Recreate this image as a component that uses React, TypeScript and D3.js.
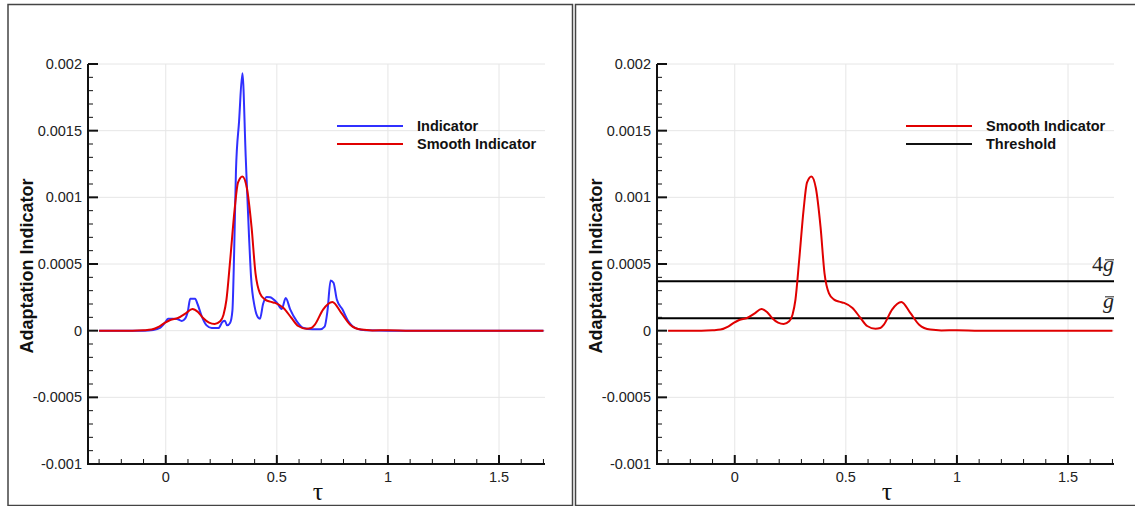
import React from 'react';
import * as d3 from 'd3';

// ---------- data ----------
const indicatorTau = [-0.30, -0.10, -0.056, -0.026, -0.003, 0.01, 0.03, 0.05, 0.072, 0.087, 0.10, 0.11, 0.132, 0.143, 0.162, 0.184, 0.207, 0.237, 0.256, 0.266, 0.276, 0.29, 0.30, 0.308, 0.316, 0.33, 0.345, 0.36, 0.375, 0.384, 0.40, 0.415, 0.424, 0.438, 0.454, 0.47, 0.50, 0.522, 0.54, 0.56, 0.59, 0.62, 0.66, 0.695, 0.715, 0.728, 0.742, 0.755, 0.77, 0.795, 0.822, 0.86, 0.90, 1.0, 1.7];
const indicatorVal = [0, 0, 0.000005, 0.00002, 0.00006, 0.00009, 0.00009, 0.000088, 0.000073, 0.00009, 0.00015, 0.00024, 0.00024, 0.0002, 0.000108, 0.00004, 0.00002, 0.00002, 0.000068, 0.000075, 0.00004, 0.00006, 0.00015, 0.0006, 0.0012, 0.00157, 0.00193, 0.0013, 0.0007, 0.0004, 0.00018, 0.0001, 0.00009, 0.0002, 0.000253, 0.00025, 0.00021, 0.000163, 0.000245, 0.00016, 0.00007, 0.00002, 0.00001, 0.00001, 0.00003, 0.00015, 0.000377, 0.00036, 0.000233, 0.00016, 0.00007, 0.000015, 0.000003, 0, 0];

const smoothTau = [-0.30, -0.15, -0.10, -0.064, -0.03, -0.005, 0.02, 0.055, 0.09, 0.12, 0.145, 0.168, 0.195, 0.22, 0.245, 0.26, 0.273, 0.29, 0.31, 0.325, 0.345, 0.365, 0.386, 0.404, 0.424, 0.447, 0.47, 0.492, 0.53, 0.566, 0.596, 0.633, 0.655, 0.671, 0.708, 0.75, 0.79, 0.83, 0.88, 0.93, 1.0, 1.1, 1.7];
const smoothVal = [0, 0, 0.000003, 0.000008, 0.00003, 0.000058, 0.00008, 0.000095, 0.00013, 0.000163, 0.00014, 0.000095, 0.00006, 0.00005, 0.00007, 0.00012, 0.00023, 0.00053, 0.00091, 0.00111, 0.001157, 0.00107, 0.00078, 0.00043, 0.00028, 0.000233, 0.000218, 0.000208, 0.00017, 0.000095, 0.000035, 0.000015, 0.00002, 0.000045, 0.000158, 0.000215, 0.000133, 0.000045, 0.000008, 0.000002, 0.000003, 0, 0];

const thresholdValues = [0.0000925, 0.00037];
const thresholdPrefix = ['', '4'];

const xTicks = [0, 0.5, 1, 1.5];
const xTickLabels = ['0', '0.5', '1', '1.5'];
const yTicks = [-0.001, -0.0005, 0, 0.0005, 0.001, 0.0015, 0.002];
const yTickLabels = ['-0.001', '-0.0005', '0', '0.0005', '0.001', '0.0015', '0.002'];

const leftLegend = ['Indicator', 'Smooth Indicator'];
const rightLegend = ['Smooth Indicator', 'Threshold'];

const BLUE = '#3030ff';
const RED = '#e00000';
const SANS = '"Liberation Sans", Arial, Helvetica, sans-serif';
const SERIF = '"Liberation Serif", "Times New Roman", serif';

type Series = { tau: number[]; val: number[]; color: string };

function Panel({ dx, series, legend, legendColors, thresholds }: { dx: number; series: Series[]; legend: string[]; legendColors: string[]; thresholds: boolean }) {
  const x = d3.scaleLinear().domain([-0.35, 1.707]).range([88, 545]);
  const y = d3.scaleLinear().domain([-0.001, 0.002]).range([464, 64]);
  const line = d3.line<[number, number]>().x(d => x(d[0])).y(d => y(d[1])).curve(d3.curveMonotoneX);
  const xMinor = d3.range(-3, 18).map(i => i / 10).filter(v => !xTicks.some(t => Math.abs(t - v) < 1e-9));
  const yMinor = d3.range(-10, 21).map(i => i / 10000).filter(v => !yTicks.some(t => Math.abs(t - v) < 1e-12));
  const [x0, x1] = x.range();
  const [yb, yt] = y.range();
  return (
    <g transform={`translate(${dx},0)`}>
      {/* grid */}
      {xTicks.map(t => (
        <line key={'gx' + t} x1={x(t)} x2={x(t)} y1={yt} y2={yb} stroke="#e6e6e6" strokeWidth={1} />
      ))}
      {yTicks.map(t => (
        <line key={'gy' + t} x1={x0} x2={x1} y1={y(t)} y2={y(t)} stroke="#e6e6e6" strokeWidth={1} />
      ))}
      {/* thresholds */}
      {thresholds && thresholdValues.map((v, i) => (
        <g key={'th' + i}>
          <line x1={x0} x2={x1} y1={y(v)} y2={y(v)} stroke="#000" strokeWidth={2} />
          <text x={x1} y={y(v) - 10} textAnchor="end" fontFamily={SERIF} fontSize={22} fill="#222">
            {thresholdPrefix[i] ? <tspan>{thresholdPrefix[i]}</tspan> : null}
            <tspan fontStyle="italic">g</tspan>
          </text>
          <line x1={x1 - 9} x2={x1} y1={y(v) - 21.5} y2={y(v) - 21.5} stroke="#222" strokeWidth={1} />
        </g>
      ))}
      {/* series */}
      {series.map((s, i) => (
        <path key={'s' + i} d={line(s.tau.map((t, j) => [t, s.val[j]] as [number, number])) || ''} fill="none" stroke={s.color} strokeWidth={2} strokeLinejoin="round" />
      ))}
      {/* axes */}
      {xMinor.map(t => (
        <line key={'xm' + t} x1={x(t)} x2={x(t)} y1={yb} y2={yb - 5} stroke="#111" strokeWidth={1} />
      ))}
      {xTicks.map(t => (
        <line key={'xM' + t} x1={x(t)} x2={x(t)} y1={yb} y2={yb - 9} stroke="#111" strokeWidth={2} />
      ))}
      {yMinor.map(t => (
        <line key={'ym' + t} x1={x0} x2={x0 + 5} y1={y(t)} y2={y(t)} stroke="#111" strokeWidth={1} />
      ))}
      {yTicks.map(t => (
        <line key={'yM' + t} x1={x0} x2={x0 + 10} y1={y(t)} y2={y(t)} stroke="#111" strokeWidth={2} />
      ))}
      <path d={`M${x0},${yt} V${yb} H${x1}`} fill="none" stroke="#111" strokeWidth={2} />
      {xTicks.map((t, i) => (
        <text key={'xl' + t} x={x(t)} y={482} textAnchor="middle" fontFamily={SANS} fontSize={14.5} fill="#222">{xTickLabels[i]}</text>
      ))}
      {yTicks.map((t, i) => (
        <text key={'yl' + t} x={82} y={y(t) + 5} textAnchor="end" fontFamily={SANS} fontSize={14.5} fill="#222">{yTickLabels[i]}</text>
      ))}
      <text x={318} y={499.5} textAnchor="middle" fontFamily={SERIF} fontSize={26} fill="#111">τ</text>
      <text transform="translate(33,266) rotate(-90)" textAnchor="middle" fontFamily={SANS} fontWeight="bold" fontSize={18} fill="#111">Adaptation Indicator</text>
      {/* legend */}
      {legend.map((l, i) => (
        <g key={'lg' + i}>
          <line x1={337} x2={403} y1={126 + i * 18} y2={126 + i * 18} stroke={legendColors[i]} strokeWidth={2} />
          <text x={417} y={131 + i * 18} fontFamily={SANS} fontWeight="bold" fontSize={14.5} fill="#111">{l}</text>
        </g>
      ))}
    </g>
  );
}

export default function App() {
  return (
    <svg width={1135} height={506} style={{ position: 'absolute', left: 0, top: 0, background: '#fff' }}>
      <rect x={0} y={0} width={1135} height={506} fill="#fff" />
      <rect x={8} y={4.5} width={564.5} height={501} fill="none" stroke="#444" strokeWidth={1.5} />
      <rect x={575.5} y={4.5} width={562} height={501} fill="none" stroke="#444" strokeWidth={1.5} />
      <Panel dx={0} series={[{ tau: indicatorTau, val: indicatorVal, color: BLUE }, { tau: smoothTau, val: smoothVal, color: RED }]} legend={leftLegend} legendColors={[BLUE, RED]} thresholds={false} />
      <Panel dx={569} series={[{ tau: smoothTau, val: smoothVal, color: RED }]} legend={rightLegend} legendColors={[RED, '#111']} thresholds={true} />
    </svg>
  );
}
